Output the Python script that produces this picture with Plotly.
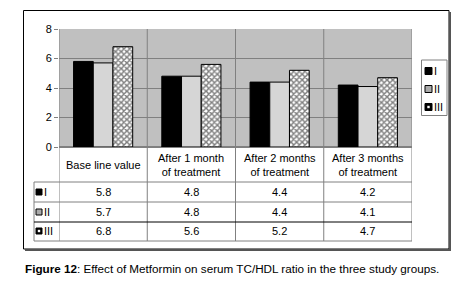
import plotly.graph_objects as go

categories = ["Base line value", "After 1 month<br>of treatment",
              "After 2 months<br>of treatment", "After 3 months<br>of treatment"]
series_names = ["I", "II", "III"]
values_I = [5.8, 4.8, 4.4, 4.2]
values_II = [5.7, 4.8, 4.4, 4.1]
values_III = [6.8, 5.6, 5.2, 4.7]
y_ticks = [0, 2, 4, 6, 8]
caption = "<b>Figure 12</b>: Effect of Metformin on serum TC/HDL ratio in the three study groups."

# layout geometry (pixels)
FW, FH = 462, 285
L, R, T, B = 59, 412, 29, 147
W, H = R - L, B - T
def px(x):
    return (x - L) / W
def py(y):
    return (B - y) / H

FONT = "Liberation Sans, Arial, sans-serif"
GRID = "#808080"
xs = list(range(len(categories)))

fig = go.Figure()
fig.add_trace(go.Bar(x=xs, y=values_I, name="I", showlegend=False,
                     marker=dict(color="black", line=dict(color="black", width=1))))
fig.add_trace(go.Bar(x=xs, y=values_II, name="II", showlegend=False,
                     marker=dict(color="white", line=dict(color="black", width=1),
                                 pattern=dict(shape=".", fgcolor="#444444", bgcolor="#ffffff",
                                              size=2, solidity=0.5))))
fig.add_trace(go.Bar(x=xs, y=values_III, name="III", showlegend=False,
                     marker=dict(color="white", line=dict(color="black", width=1),
                                 pattern=dict(shape="x", fgcolor="black", bgcolor="white",
                                              size=4, solidity=0.6))))

shapes = []
# vertical category boundaries (plot + table)
for i in range(len(categories) + 1):
    shapes.append(dict(type="line", xref="x", yref="paper", x0=i - 0.5, x1=i - 0.5,
                       y0=py(241), y1=1, line=dict(color=GRID, width=1), layer="above"))
# table row header column left line
shapes.append(dict(type="line", xref="paper", yref="paper", x0=px(34), x1=px(34),
                   y0=py(241), y1=py(182), line=dict(color=GRID, width=1)))
# horizontal table lines
for yy, col in [(182, GRID), (202, GRID), (222, "black"), (241, GRID)]:
    shapes.append(dict(type="line", xref="paper", yref="paper", x0=px(34), x1=px(412),
                       y0=py(yy), y1=py(yy), line=dict(color=col, width=1)))
# outer frame + shadow
shapes.append(dict(type="rect", xref="paper", yref="paper", x0=px(23.5), x1=px(449),
                   y0=py(249), y1=py(10.5), line=dict(color="black", width=1)))
shapes.append(dict(type="line", xref="paper", yref="paper", x0=px(450), x1=px(450),
                   y0=py(251), y1=py(12), line=dict(color="#555555", width=2)))
shapes.append(dict(type="line", xref="paper", yref="paper", x0=px(25), x1=px(451),
                   y0=py(250), y1=py(250), line=dict(color="#555555", width=2)))

annotations = []

def add_key(xk, yy, k, xt, size=6):
    fills = ["black", "#aaaaaa", "black"]
    shapes.append(dict(type="rect", xref="paper", yref="paper", x0=px(xk), x1=px(xk + size),
                       y0=py(yy + size / 2), y1=py(yy - size / 2), fillcolor=fills[k],
                       line=dict(color="black", width=1)))
    if k == 2:
        shapes.append(dict(type="rect", xref="paper", yref="paper", x0=px(xk + size / 2 - 1.2),
                           x1=px(xk + size / 2 + 1.2), y0=py(yy + 1.2), y1=py(yy - 1.2),
                           fillcolor="white", line=dict(width=0)))
    annotations.append(dict(x=px(xt), xref="paper", y=py(yy), yref="paper",
                            text=series_names[k], showarrow=False,
                            font=dict(size=11, color="black", family=FONT),
                            xanchor="left", yanchor="middle"))

# table row header keys
row_y = [192, 212, 231]
for k, yy in enumerate(row_y):
    add_key(36, yy, k, 42)

# legend box + keys
shapes.append(dict(type="rect", xref="paper", yref="paper", x0=px(421.5), x1=px(447),
                   y0=py(115.5), y1=py(60), fillcolor="white",
                   line=dict(color=GRID, width=1)))
for k, yy in enumerate([71, 89, 107]):
    add_key(425, yy, k, 432, size=7)

for i, c in enumerate(categories):
    annotations.append(dict(x=i, xref="x", y=py(164.5), yref="paper", text=c,
                            showarrow=False, font=dict(size=11, color="black", family=FONT),
                            xanchor="center", yanchor="middle"))
for vals, yy in zip([values_I, values_II, values_III], row_y):
    for i, v in enumerate(vals):
        annotations.append(dict(x=i, xref="x", y=py(yy), yref="paper", text=f"{v:.1f}",
                                showarrow=False, font=dict(size=11, color="black", family=FONT),
                                xanchor="center", yanchor="middle"))
annotations.append(dict(x=px(23), xref="paper", y=py(268), yref="paper", text=caption,
                        showarrow=False, font=dict(size=11.7, color="black", family=FONT),
                        xanchor="left", yanchor="middle"))

fig.update_layout(
    width=FW, height=FH,
    margin=dict(l=L, r=FW - R, t=T, b=FH - B, pad=0, autoexpand=False),
    paper_bgcolor="white", plot_bgcolor="#c0c0c0",
    barmode="group", bargap=0.33, bargroupgap=0,
    font=dict(family=FONT, size=11, color="black"),
    showlegend=False,
    xaxis=dict(range=[-0.5, len(categories) - 0.5], showticklabels=False, showgrid=False,
               zeroline=False, showline=False, ticks=""),
    yaxis=dict(range=[0, 8], tickvals=y_ticks, showgrid=True, gridcolor=GRID, gridwidth=1,
               zeroline=True, zerolinecolor=GRID, ticks="outside", ticklen=4,
               tickcolor=GRID, showline=False, tickfont=dict(size=11)),
    shapes=shapes, annotations=annotations,
)
fig.write_html("out.html", config={"displayModeBar": False},
               post_script="document.body.style.margin='0';")
